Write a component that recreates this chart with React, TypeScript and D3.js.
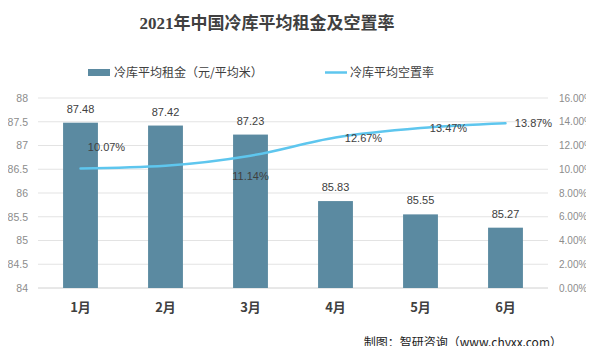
import { useEffect, useRef } from "react";
import * as d3 from "d3";

const MONTHS = ["1月", "2月", "3月", "4月", "5月", "6月"];
const RENT = [87.48, 87.42, 87.23, 85.83, 85.55, 85.27];
const VACANCY = [10.07, 10.3, 11.14, 12.67, 13.47, 13.87];
// which vacancy points carry a label, and where
const VACANCY_LABEL = ["above", "none", "below", "right", "right", "right"];
const RENT_TICKS = [84, 84.5, 85, 85.5, 86, 86.5, 87, 87.5, 88];
const RATE_TICKS = [0, 2, 4, 6, 8, 10, 12, 14, 16];

const BAR_COLOR = "#5b8aa1";
const LINE_COLOR = "#5ec6ee";
const TEXT = "#404040";
const MUTED = "#8c8c8c";
const CJK = "'Noto Sans CJK SC', 'Noto Sans', sans-serif";
const LATIN = "'Liberation Sans', Arial, sans-serif";

export default function App() {
  const svgRef = useRef<SVGSVGElement>(null);

  useEffect(() => {
    if (!svgRef.current) return;
    const W = 594, H = 354;
    const left = 38, right = 548, top = 98, bottom = 288;

    const root = d3.select(svgRef.current);
    root.selectAll("*").remove();
    root.append("rect").attr("width", W).attr("height", H).attr("fill", "#ffffff");

    const x = d3.scaleBand().domain(MONTHS).range([left, right]).paddingInner(0.59).paddingOuter(0.295);
    const y = d3.scaleLinear().domain([84, 88]).range([bottom, top]);
    const y2 = d3.scaleLinear().domain([0, 16]).range([bottom, top]);

    // Grid
    root.append("g")
      .selectAll("line")
      .data(RENT_TICKS)
      .join("line")
      .attr("x1", left)
      .attr("x2", right)
      .attr("y1", (d) => y(d))
      .attr("y2", (d) => y(d))
      .attr("stroke", (d) => (d === 84 ? "#d0d0d0" : "#e3e3e3"))
      .attr("stroke-width", 1);

    // Left axis
    root.append("g")
      .attr("transform", `translate(${left},0)`)
      .call(d3.axisLeft(y).tickValues(RENT_TICKS).tickSize(0).tickPadding(10).tickFormat((d) => `${d}`))
      .call((g) => g.select(".domain").remove())
      .call((g) => g.selectAll(".tick text").attr("fill", MUTED).attr("font-size", "10.5px").attr("font-family", LATIN));

    // Right axis
    root.append("g")
      .attr("transform", `translate(${right},0)`)
      .call(d3.axisRight(y2).tickValues(RATE_TICKS).tickSize(0).tickPadding(11).tickFormat((d) => `${Number(d).toFixed(2)}%`))
      .call((g) => g.select(".domain").remove())
      .call((g) => g.selectAll(".tick text").attr("fill", MUTED).attr("font-size", "10px").attr("font-family", LATIN));

    // Bars
    root.append("g")
      .selectAll("rect")
      .data(RENT)
      .join("rect")
      .attr("x", (_, i) => x(MONTHS[i])!)
      .attr("width", x.bandwidth())
      .attr("y", (d) => y(d))
      .attr("height", (d) => bottom - y(d))
      .attr("fill", BAR_COLOR);

    root.append("g")
      .selectAll("text")
      .data(RENT)
      .join("text")
      .attr("x", (_, i) => x(MONTHS[i])! + x.bandwidth() / 2)
      .attr("y", (d) => y(d) - 10)
      .attr("text-anchor", "middle")
      .attr("fill", TEXT)
      .attr("font-size", "11px")
      .attr("font-family", LATIN)
      .text((d) => d.toFixed(2));

    // Vacancy line
    const cx = (i: number) => x(MONTHS[i])! + x.bandwidth() / 2;
    const line = d3.line<number>()
      .x((_, i) => cx(i))
      .y((d) => y2(d))
      .curve(d3.curveMonotoneX);

    root.append("path")
      .datum(VACANCY)
      .attr("fill", "none")
      .attr("stroke", LINE_COLOR)
      .attr("stroke-width", 2.5)
      .attr("stroke-linecap", "round")
      .attr("d", line);

    VACANCY.forEach((v, i) => {
      const pos = VACANCY_LABEL[i];
      if (pos === "none") return;
      let lx = cx(i), ly = y2(v) + 4;
      if (pos === "above") { lx = cx(i) + 26; ly = y2(v) - 17; }
      if (pos === "below") { ly = y2(v) + 24; }
      if (pos === "right") { lx = cx(i) + 28; }
      root.append("text")
        .attr("x", lx)
        .attr("y", ly)
        .attr("text-anchor", "middle")
        .attr("fill", TEXT)
        .attr("font-size", "11px")
        .attr("font-family", LATIN)
        .text(`${v.toFixed(2)}%`);
    });

    // X labels
    root.append("g")
      .selectAll("text")
      .data(MONTHS)
      .join("text")
      .attr("x", (d) => x(d)! + x.bandwidth() / 2)
      .attr("y", 312)
      .attr("text-anchor", "middle")
      .attr("fill", TEXT)
      .attr("font-size", "13px")
      .attr("font-weight", "bold")
      .attr("font-family", CJK)
      .text((d) => d);

    // Title
    root.append("text")
      .attr("x", 267)
      .attr("y", 29)
      .attr("text-anchor", "middle")
      .attr("fill", TEXT)
      .attr("font-size", "17px")
      .attr("font-weight", "bold")
      .attr("font-family", "'Liberation Serif', 'Noto Sans CJK SC', serif")
      .text("2021年中国冷库平均租金及空置率");

    // Legend
    root.append("rect").attr("x", 88).attr("y", 69).attr("width", 22).attr("height", 7).attr("fill", BAR_COLOR);
    root.append("text")
      .attr("x", 114).attr("y", 77)
      .attr("fill", TEXT).attr("font-size", "12px").attr("font-family", CJK)
      .text("冷库平均租金（元/平均米）");
    root.append("line").attr("x1", 325).attr("x2", 347).attr("y1", 72.5).attr("y2", 72.5)
      .attr("stroke", LINE_COLOR).attr("stroke-width", 2.5);
    root.append("text")
      .attr("x", 350).attr("y", 77)
      .attr("fill", TEXT).attr("font-size", "12px").attr("font-family", CJK)
      .text("冷库平均空置率");

    // Source
    root.append("text")
      .attr("x", 562).attr("y", 347)
      .attr("text-anchor", "end")
      .attr("fill", "#222222").attr("font-size", "12px").attr("font-family", CJK)
      .text("制图：智研咨询（www.chyxx.com）");
  }, []);

  return (
    <div style={{ margin: -8 }}>
      <svg ref={svgRef} width={594} height={354} style={{ display: "block" }} />
    </div>
  );
}
